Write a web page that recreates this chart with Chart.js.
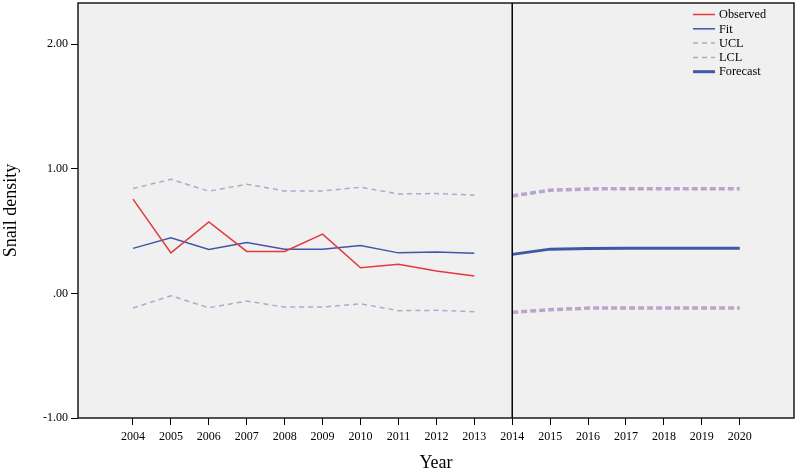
<!DOCTYPE html>
<html>
<head>
<meta charset="utf-8">
<title>Snail density</title>
<script src="https://cdn.jsdelivr.net/npm/chart.js@4/dist/chart.umd.min.js"></script>
<style>
  html, body { margin: 0; padding: 0; background: #fff; }
</style>
</head>
<body>
<canvas id="snailChart" width="798" height="475"></canvas>
<script>
// years with observed data / fitted model
var fitYears = [2004, 2005, 2006, 2007, 2008, 2009, 2010, 2011, 2012, 2013];
// years the model forecasts
var forecastYears = [2014, 2015, 2016, 2017, 2018, 2019, 2020];
// tick labels on both axes
var xTickYears = [2004, 2005, 2006, 2007, 2008, 2009, 2010, 2011, 2012, 2013, 2014, 2015, 2016, 2017, 2018, 2019, 2020];
var yTickValues = [-1, 0, 1, 2];

// values
var observed = [0.756, 0.325, 0.574, 0.337, 0.337, 0.475, 0.206, 0.233, 0.179, 0.139];
var fit = [0.361, 0.446, 0.353, 0.409, 0.355, 0.355, 0.385, 0.325, 0.331, 0.321];
var ucl = [0.841, 0.916, 0.820, 0.876, 0.822, 0.822, 0.852, 0.798, 0.801, 0.788];
var lcl = [-0.118, -0.019, -0.115, -0.062, -0.110, -0.110, -0.083, -0.139, -0.136, -0.147];
var forecast = [0.313, 0.355, 0.360, 0.362, 0.362, 0.362, 0.362];
var forecastUcl = [0.782, 0.828, 0.838, 0.840, 0.840, 0.840, 0.840];
var forecastLcl = [-0.152, -0.131, -0.118, -0.117, -0.117, -0.117, -0.117];

// split year between fitted part and forecast part
var forecastStart = 2014;

var serif = "'Liberation Serif', 'Times New Roman', serif";
var red = '#e2393f';
var blue = '#3f57a6';
var purple = '#b9a4cd';

// pair years with values for the linear x scale
function toPoints(years, values) {
    return years.map(function (yr, i) { return { x: yr, y: values[i] }; });
}

// grey plot background + black frame
var plotFrame = {
    id: 'plotFrame',
    beforeDraw: function (chart) {
        var a = chart.chartArea;
        var ctx = chart.ctx;
        ctx.save();
        ctx.fillStyle = '#f0f0f0';
        ctx.fillRect(a.left, a.top, a.right - a.left, a.bottom - a.top);
        ctx.restore();
    },
    afterDraw: function (chart) {
        var a = chart.chartArea;
        var ctx = chart.ctx;
        ctx.save();
        ctx.strokeStyle = '#1a1a1a';
        ctx.lineWidth = 1.5;
        ctx.strokeRect(a.left, a.top, a.right - a.left, a.bottom - a.top);
        ctx.restore();
    }
};

// vertical line where the forecast begins
var forecastLine = {
    id: 'forecastLine',
    afterDatasetsDraw: function (chart) {
        var a = chart.chartArea;
        var x = chart.scales.x.getPixelForValue(forecastStart);
        var ctx = chart.ctx;
        ctx.save();
        ctx.strokeStyle = '#000';
        ctx.lineWidth = 1.5;
        ctx.beginPath();
        ctx.moveTo(x, a.top);
        ctx.lineTo(x, a.bottom);
        ctx.stroke();
        ctx.restore();
    }
};

// legend in the top right corner of the plot, like SPSS does it
var cornerLegend = {
    id: 'cornerLegend',
    afterDraw: function (chart) {
        var a = chart.chartArea;
        var ctx = chart.ctx;
        var x0 = a.right - 101;
        var y0 = a.top + 11.5;
        var rowH = 14.3;
        ctx.save();
        ctx.font = '12.3px ' + serif;
        ctx.textBaseline = 'middle';
        ctx.fillStyle = '#000';
        chart.data.datasets.forEach(function (ds, i) {
            if (ds.inLegend === false) return;
            var y = y0 + i * rowH;
            ctx.strokeStyle = ds.borderColor;
            ctx.lineWidth = ds.borderWidth;
            ctx.setLineDash(ds.borderDash || []);
            ctx.beginPath();
            ctx.moveTo(x0, y);
            ctx.lineTo(x0 + 22, y);
            ctx.stroke();
            ctx.setLineDash([]);
            ctx.fillText(ds.label, x0 + 26, y + 0.5);
        });
        ctx.restore();
    }
};

var ctx = document.getElementById('snailChart').getContext('2d');
var snailChart = new Chart(ctx, {
    type: 'line',
    data: {
        datasets: [
            { label: 'Observed', data: toPoints(fitYears, observed), borderColor: red, borderWidth: 1.5 },
            { label: 'Fit', data: toPoints(fitYears, fit), borderColor: blue, borderWidth: 1.5 },
            { label: 'UCL', data: toPoints(fitYears, ucl), borderColor: purple, borderWidth: 1.5, borderDash: [5, 4] },
            { label: 'LCL', data: toPoints(fitYears, lcl), borderColor: purple, borderWidth: 1.5, borderDash: [5, 4] },
            { label: 'Forecast', data: toPoints(forecastYears, forecast), borderColor: blue, borderWidth: 3 },
            { label: 'UCL forecast', inLegend: false, data: toPoints(forecastYears, forecastUcl), borderColor: purple, borderWidth: 3.5, borderDash: [6, 3] },
            { label: 'LCL forecast', inLegend: false, data: toPoints(forecastYears, forecastLcl), borderColor: purple, borderWidth: 3.5, borderDash: [6, 3] }
        ]
    },
    options: {
        responsive: false,
        animation: false,
        layout: { padding: { top: 3, right: 4, left: 0, bottom: 0 } },
        elements: {
            point: { radius: 0, hoverRadius: 0 },
            line: { tension: 0, fill: false }
        },
        plugins: {
            legend: { display: false },
            tooltip: { enabled: false }
        },
        scales: {
            x: {
                type: 'linear',
                min: 2002.55,
                max: 2021.43,
                afterBuildTicks: function (scale) {
                    scale.ticks = xTickYears.map(function (v) { return { value: v }; });
                },
                afterFit: function (scale) {
                    scale.height = 57;
                    scale.paddingLeft = 0;
                    scale.paddingRight = 0;
                },
                grid: { drawOnChartArea: false, drawTicks: true, tickLength: 7, color: '#000' },
                border: { display: false },
                ticks: {
                    autoSkip: false,
                    maxRotation: 0,
                    padding: 5,
                    color: '#000',
                    font: { family: serif, size: 12 },
                    callback: function (v) { return String(v); }
                },
                title: {
                    display: true,
                    text: 'Year',
                    color: '#000',
                    font: { family: serif, size: 18 },
                    padding: { top: 0, bottom: 1 }
                }
            },
            y: {
                min: -1,
                max: 2.33,
                afterBuildTicks: function (scale) {
                    scale.ticks = yTickValues.map(function (v) { return { value: v }; });
                },
                afterFit: function (scale) {
                    scale.width = 78;
                    scale.paddingTop = 0;
                    scale.paddingBottom = 0;
                },
                grid: { drawOnChartArea: false, drawTicks: true, tickLength: 7, color: '#000' },
                border: { display: false },
                ticks: {
                    padding: 3,
                    color: '#000',
                    font: { family: serif, size: 12 },
                    callback: function (v) { return v === 0 ? '.00' : v.toFixed(2); }
                },
                title: {
                    display: true,
                    text: 'Snail density',
                    color: '#000',
                    font: { family: serif, size: 18 },
                    padding: { top: 0, bottom: 0 }
                }
            }
        }
    },
    plugins: [plotFrame, forecastLine, cornerLegend]
});
</script>
</body>
</html>
